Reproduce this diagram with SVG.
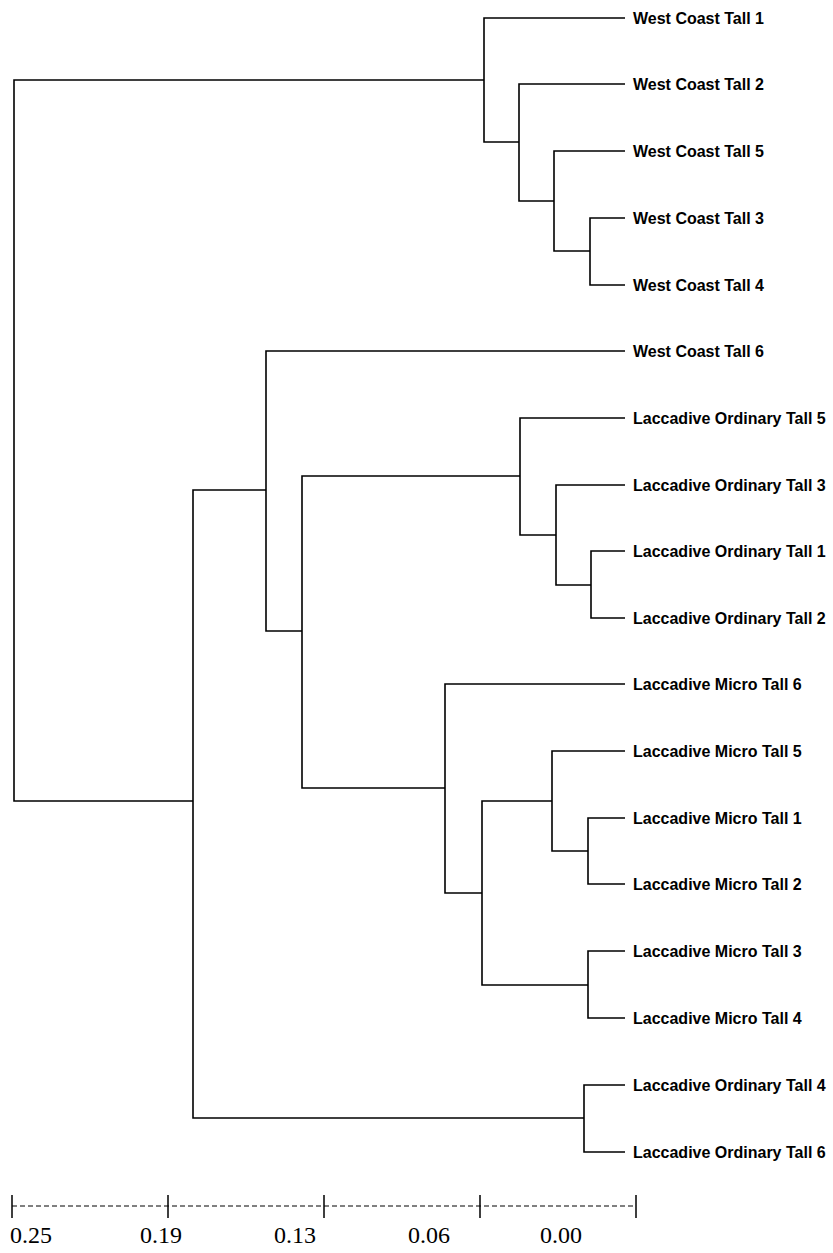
<svg xmlns="http://www.w3.org/2000/svg" width="833" height="1253" viewBox="0 0 833 1253">
<style>
.lbl{font-family:"Liberation Sans",Arial,sans-serif;font-weight:bold;font-size:16px;fill:#000}
.ax{font-family:"Liberation Serif","Times New Roman",serif;font-size:24px;fill:#000}
.tree path{fill:none;stroke:#000;stroke-width:1.6}
</style>
<rect width="833" height="1253" fill="#fff"/>
<g id="connectors" class="tree">
<path d="M625,218 H590 V285 H625"/>
<path d="M625,151 H554 V251 H590"/>
<path d="M625,84 H519 V201 H554"/>
<path d="M625,18 H484 V142 H519"/>
<path d="M625,551 H591 V618 H625"/>
<path d="M625,485 H556 V585 H591"/>
<path d="M625,418 H520 V535 H556"/>
<path d="M625,818 H588 V884 H625"/>
<path d="M625,751 H552 V851 H588"/>
<path d="M625,951 H588 V1018 H625"/>
<path d="M552,801 H482 V985 H588"/>
<path d="M625,684 H445 V893 H482"/>
<path d="M520,476 H302 V788 H445"/>
<path d="M625,351 H266 V631 H302"/>
<path d="M625,1085 H584 V1152 H625"/>
<path d="M266,490 H193 V1118 H584"/>
<path d="M484,80 H14 V801 H193"/>
</g>
<g id="leaf-wct1"><text class="lbl" x="633" y="24">West Coast Tall 1</text></g>
<g id="leaf-wct2"><text class="lbl" x="633" y="90">West Coast Tall 2</text></g>
<g id="leaf-wct5"><text class="lbl" x="633" y="157">West Coast Tall 5</text></g>
<g id="leaf-wct3"><text class="lbl" x="633" y="224">West Coast Tall 3</text></g>
<g id="leaf-wct4"><text class="lbl" x="633" y="291">West Coast Tall 4</text></g>
<g id="leaf-wct6"><text class="lbl" x="633" y="357">West Coast Tall 6</text></g>
<g id="leaf-lot5"><text class="lbl" x="633" y="424">Laccadive Ordinary Tall 5</text></g>
<g id="leaf-lot3"><text class="lbl" x="633" y="491">Laccadive Ordinary Tall 3</text></g>
<g id="leaf-lot1"><text class="lbl" x="633" y="557">Laccadive Ordinary Tall 1</text></g>
<g id="leaf-lot2"><text class="lbl" x="633" y="624">Laccadive Ordinary Tall 2</text></g>
<g id="leaf-lmt6"><text class="lbl" x="633" y="690">Laccadive Micro Tall 6</text></g>
<g id="leaf-lmt5"><text class="lbl" x="633" y="757">Laccadive Micro Tall 5</text></g>
<g id="leaf-lmt1"><text class="lbl" x="633" y="824">Laccadive Micro Tall 1</text></g>
<g id="leaf-lmt2"><text class="lbl" x="633" y="890">Laccadive Micro Tall 2</text></g>
<g id="leaf-lmt3"><text class="lbl" x="633" y="957">Laccadive Micro Tall 3</text></g>
<g id="leaf-lmt4"><text class="lbl" x="633" y="1024">Laccadive Micro Tall 4</text></g>
<g id="leaf-lot4"><text class="lbl" x="633" y="1091">Laccadive Ordinary Tall 4</text></g>
<g id="leaf-lot6"><text class="lbl" x="633" y="1158">Laccadive Ordinary Tall 6</text></g>
<g id="axis">
<path d="M12,1206 H636" stroke="#000" stroke-width="1" stroke-dasharray="5 3" fill="none"/>
<path d="M12,1195 V1218 M168,1195 V1218 M324,1195 V1218 M480,1195 V1218 M636,1195 V1218" stroke="#000" stroke-width="1.5" fill="none"/>
<text class="ax" x="10" y="1243">0.25</text>
<text class="ax" x="140" y="1243">0.19</text>
<text class="ax" x="274" y="1243">0.13</text>
<text class="ax" x="408" y="1243">0.06</text>
<text class="ax" x="540" y="1243">0.00</text>
</g>
</svg>
